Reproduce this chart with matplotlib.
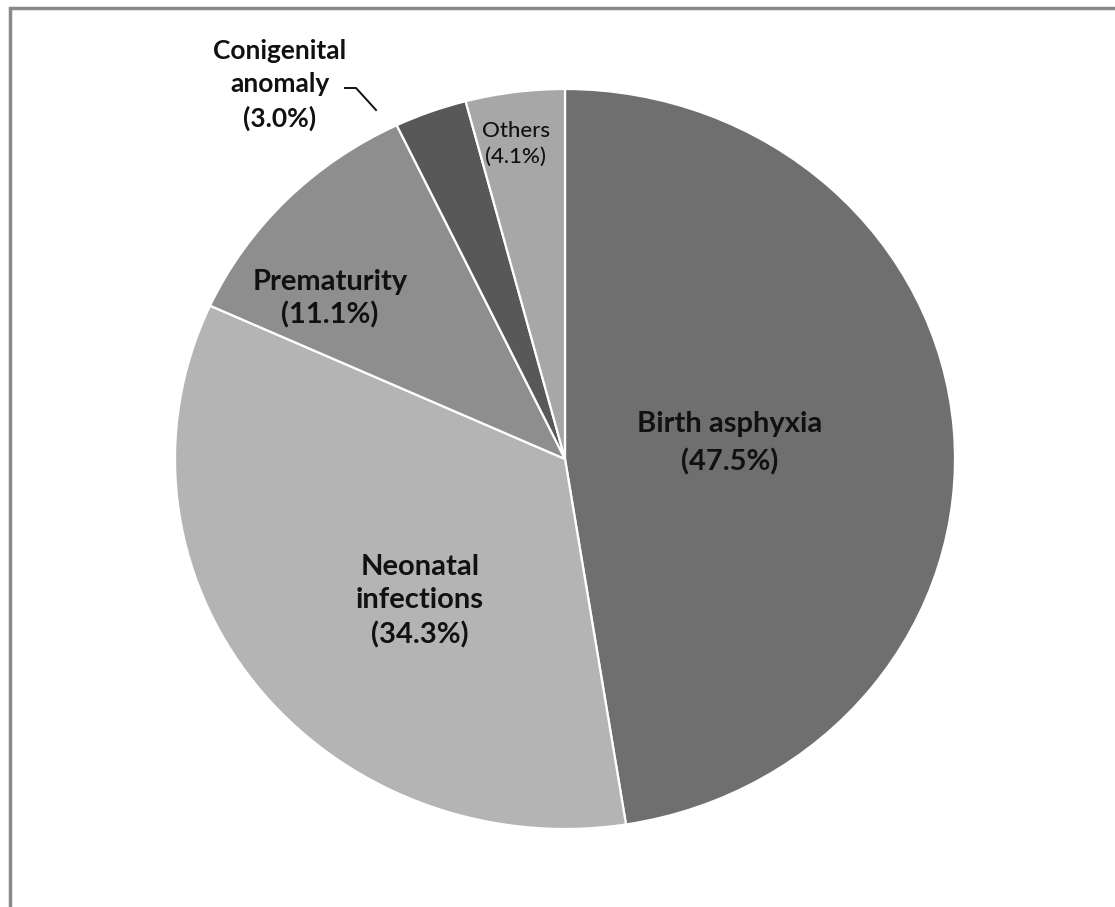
import numpy as np
import matplotlib.pyplot as plt
from matplotlib.patches import Rectangle

causes = ['Birth asphyxia', 'Neonatal infections', 'Prematurity',
          'Conigenital anomaly', 'Others']
shares = [47.5, 34.3, 11.1, 3.0, 4.1]
shades = ['#6f6f6f', '#b4b4b4', '#8e8e8e', '#585858', '#a7a7a7']

W, H = 1115, 907
CX, CY = 565, 459      # pie centre, pixels
RX, RY = 390, 370      # the pie is drawn slightly squashed

plt.rcParams['font.family'] = ['Lato', 'DejaVu Sans']

fig = plt.figure(figsize=(W / 100, H / 100), dpi=100)
ax = fig.add_axes([0, 0, 1, 1])

wedges, _ = ax.pie(shares, colors=shades, startangle=90, counterclock=False,
                   wedgeprops=dict(edgecolor='white', linewidth=1.6))
ax.set_aspect('auto')
ax.set_xlim(-CX / RX, (W - CX) / RX)
ax.set_ylim(-(H - CY) / RY, CY / RY)
ax.axis('off')

# outer frame (only top and left edges fall inside the image)
fig.patches.append(Rectangle((10 / W, -0.05), 1.2, 1 - 8 / H - (-0.05),
                             transform=fig.transFigure, fill=False,
                             edgecolor='#8a8a8a', linewidth=2.5))


def put(x, y, s, size=20, weight='bold', ls=1.4):
    fig.text(x / W, 1 - y / H, s, ha='center', va='center',
             fontsize=size, fontweight=weight, color='#111111',
             linespacing=ls)


put(730, 443, 'Birth asphyxia\n(%.1f%%)' % shares[0], size=21, ls=1.5)
put(420, 601, 'Neonatal\ninfections\n(%.1f%%)' % shares[1], size=21, ls=1.35)
put(330, 299, 'Prematurity\n(%.1f%%)' % shares[2], size=21, ls=1.3)
put(280, 85, 'Conigenital\nanomaly\n(%.1f%%)' % shares[3], size=19, ls=1.45)
put(516, 144, 'Others\n(%.1f%%)' % shares[4], size=16, weight='medium',
    ls=1.4)

# leader line for the small congenital slice
lx = np.array([345, 356, 376])
ly = np.array([88, 88, 110])
fig.add_artist(plt.Line2D(lx / W, 1 - ly / H, transform=fig.transFigure,
                          color='#111111', linewidth=1.4))

fig.savefig('out.png', dpi=100, facecolor='white')
